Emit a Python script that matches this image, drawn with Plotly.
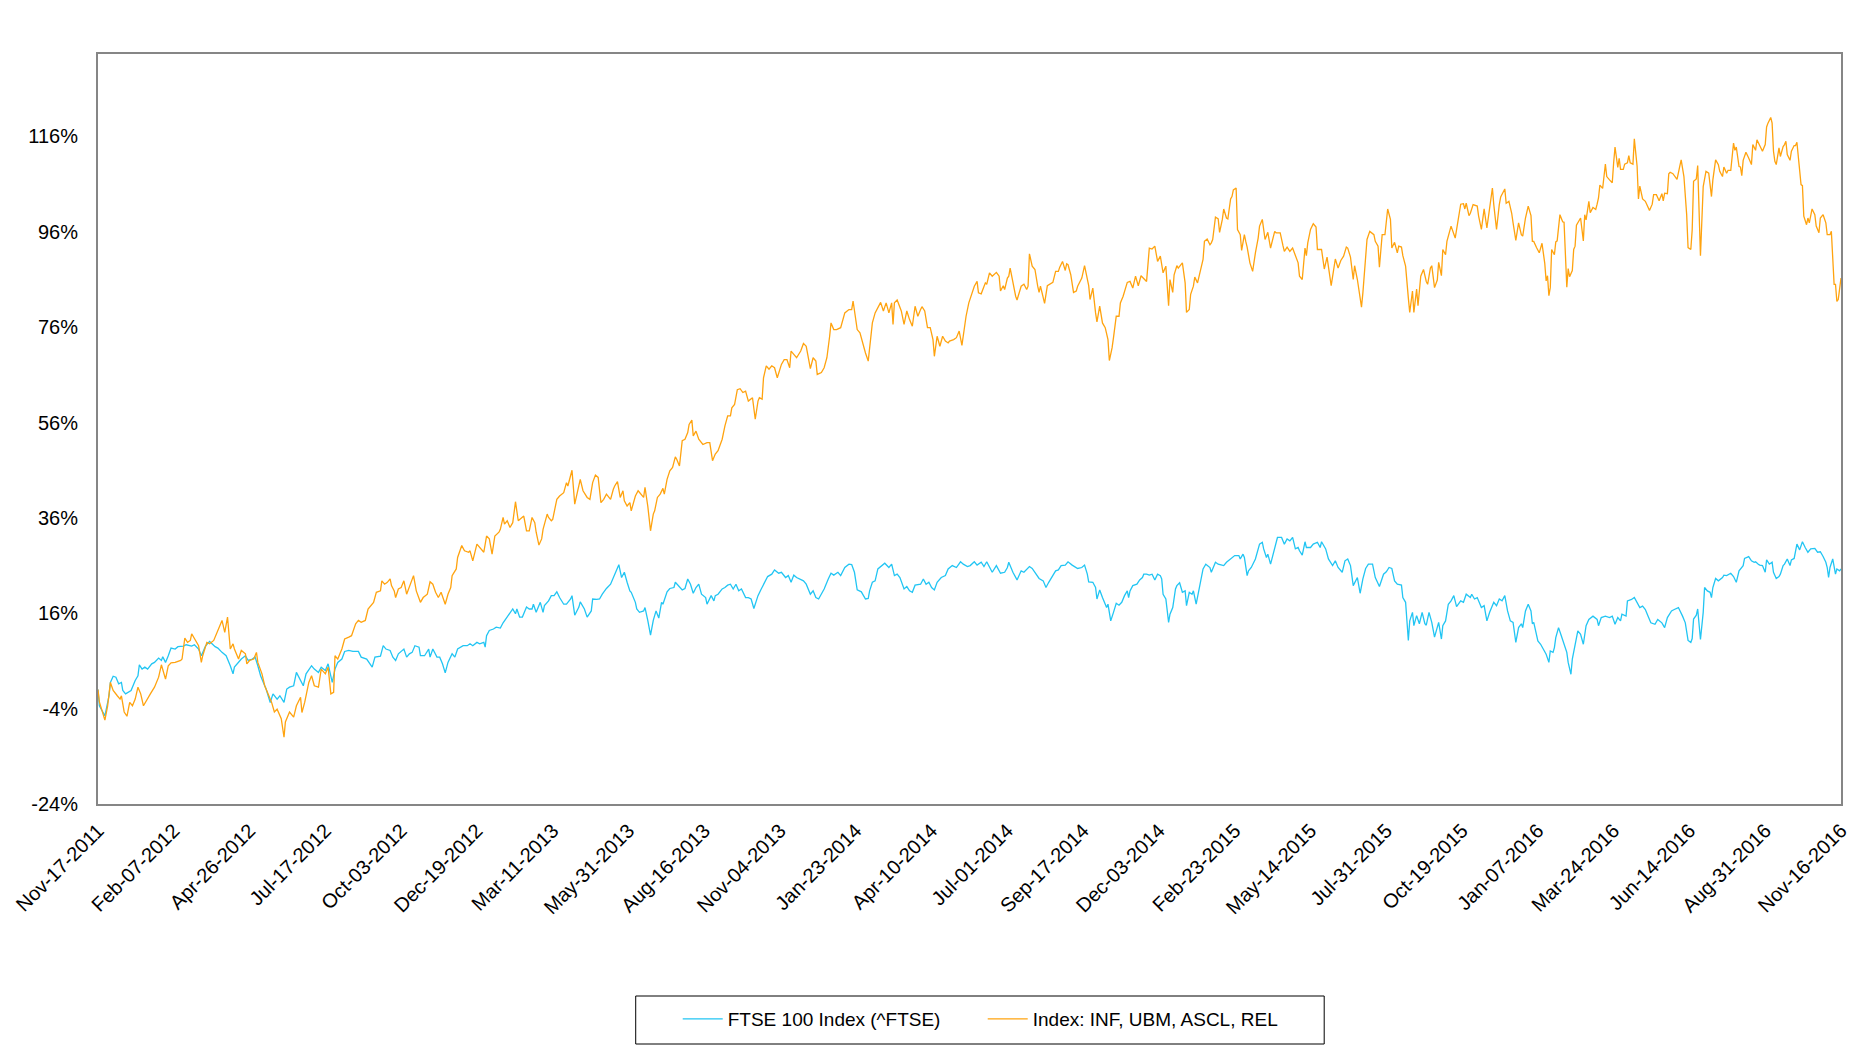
import plotly.graph_objects as go

# trading sessions since Nov-17-2011 (0) to Nov-16-2016 (1265), % change vs start
tick_dates = ["Nov-17-2011", "Feb-07-2012", "Apr-26-2012", "Jul-17-2012", "Oct-03-2012",
              "Dec-19-2012", "Mar-11-2013", "May-31-2013", "Aug-16-2013", "Nov-04-2013",
              "Jan-23-2014", "Apr-10-2014", "Jul-01-2014", "Sep-17-2014", "Dec-03-2014",
              "Feb-23-2015", "May-14-2015", "Jul-31-2015", "Oct-19-2015", "Jan-07-2016",
              "Mar-24-2016", "Jun-14-2016", "Aug-31-2016", "Nov-16-2016"]
tick_days = [0, 55, 110, 165, 220, 275, 330, 385, 440, 495, 550, 605,
             660, 715, 770, 825, 880, 935, 990, 1045, 1100, 1155, 1210, 1265]
y_ticks = [-24, -4, 16, 36, 56, 76, 96, 116]
y_labels = ["-24%", "-4%", "16%", "36%", "56%", "76%", "96%", "116%"]

ftse_name = "FTSE 100 Index (^FTSE)"
basket_name = "Index: INF, UBM, ASCL, REL"

# (session, % change)
ftse_points = [
    (0, 0.0), (1, -3.4), (5, -5.5), (8, -1.3), (9, 1.5), (11, 2.8), (13, 2.6), (15, 1.2), (17, 1.5),
    (18, -0.2), (20, -0.9), (22, -0.6), (24, -0.2), (27, 1.9), (29, 2.9), (30, 5.2), (32, 4.3), (34, 4.7),
    (36, 4.3), (39, 5.4), (41, 5.7), (44, 6.6), (46, 6.1), (47, 6.9), (49, 5.7), (51, 7.1), (53, 8.7),
    (56, 8.5), (58, 9.0), (62, 9.1), (64, 9.4), (68, 9.1), (70, 9.4), (73, 8.5), (75, 7.1), (78, 9.1),
    (81, 10.1), (85, 9.0), (87, 8.7), (90, 7.8), (93, 7.1), (96, 5.0), (98, 3.3), (99, 4.7), (102, 5.7),
    (104, 6.4), (107, 7.1), (109, 6.1), (112, 6.4), (114, 6.8), (116, 5.0), (118, 2.9), (120, 1.5),
    (122, 0.1), (125, -2.7), (127, -0.9), (130, -2.0), (132, -1.3), (135, -2.7), (137, 0.1), (139, 0.5),
    (142, 0.8), (144, 3.6), (147, 1.9), (149, 0.8), (151, 3.3), (155, 5.0), (157, 4.3), (160, 3.6),
    (162, 4.7), (165, 4.0), (167, 5.4), (170, 1.5), (172, 4.3), (174, 5.7), (177, 6.4), (179, 8.0),
    (182, 8.2), (185, 8.0), (189, 8.0), (191, 6.8), (195, 6.4), (199, 4.7), (201, 6.8), (205, 7.0),
    (207, 9.2), (209, 8.5), (212, 8.2), (214, 6.8),
    (216, 6.1), (218, 7.5), (222, 8.5), (224, 6.8), (226, 7.5), (228, 7.8), (230, 9.2), (233, 8.9),
    (234, 7.1), (237, 7.1), (240, 8.5), (241, 6.8), (243, 8.5), (246, 6.8), (248, 6.8), (250, 5.4),
    (252, 3.5), (254, 5.7), (257, 7.5), (259, 6.8), (261, 8.5), (265, 9.2), (268, 9.2), (270, 9.6),
    (272, 9.2), (275, 9.9), (277, 9.6), (280, 9.9), (281, 8.9), (282, 11.3), (284, 12.4), (287, 12.7),
    (289, 13.1), (292, 12.9), (294, 14.0), (297, 15.2), (299, 15.9), (301, 16.9), (303, 15.9), (304, 16.9),
    (306, 15.2), (308, 15.2), (311, 17.3), (313, 16.9), (315, 16.9), (316, 17.9), (318, 16.2), (321, 18.3),
    (323, 16.2), (324, 17.6), (327, 18.6), (329, 19.7), (331, 19.7), (333, 20.5), (335, 19.3), (338, 17.9),
    (340, 17.9), (343, 19.0), (344, 19.7), (346, 15.6), (349, 17.3), (350, 18.4), (353, 16.9), (355, 15.2),
    (358, 16.5), (359, 19.0), (362, 18.9), (364, 19.0), (366, 20.0), (369, 21.2), (372, 22.1), (374, 23.5),
    (376, 24.9), (378, 26.2), (380, 23.5), (382, 24.6), (384, 22.5), (386, 20.7), (387, 20.4), (390, 18.3),
    (391, 16.9), (393, 16.2), (396, 16.5), (397, 17.2), (399, 14.5), (401, 11.4), (403, 14.5), (405, 16.5),
    (407, 15.0), (409, 18.3), (410, 17.9), (413, 20.5), (415, 21.2), (418, 21.4), (419, 22.5), (421, 21.8),
    (424, 20.9), (426, 21.2), (428, 23.2), (430, 22.1), (432, 20.2), (434, 21.4), (436, 22.1), (438, 20.0),
    (441, 19.3), (442, 17.9), (445, 19.7), (447, 18.6), (448, 19.7), (450, 20.0), (453, 21.1), (455, 21.4),
    (457, 21.9), (459, 22.1), (461, 21.1), (463, 22.1), (465, 20.7), (467, 21.1), (470, 19.3), (472, 19.3),
    (474, 19.0), (476, 17.0), (479, 19.7), (481, 20.9), (484, 22.5), (486, 23.7), (489, 24.2), (491, 25.1),
    (494, 24.4), (496, 24.6), (499, 23.5), (501, 23.9), (503, 22.5), (505, 24.0), (507, 23.5), (510, 23.0),
    (512, 22.8), (514, 22.1), (517, 20.0), (519, 20.7), (521, 19.3), (523, 19.0), (525, 20.0), (527, 21.1),
    (530, 23.2), (532, 24.4), (534, 24.0), (537, 24.6), (539, 23.9), (542, 25.6), (545, 26.3), (547, 26.2),
    (549, 24.6), (551, 20.9), (554, 20.5), (555, 20.0), (557, 19.0), (559, 19.1), (560, 20.7), (562, 22.5),
    (564, 22.8), (566, 25.3), (569, 26.0), (571, 26.5), (574, 25.6), (576, 26.3), (578, 23.9), (580, 24.2),
    (582, 23.5), (585, 21.1), (587, 21.6), (589, 20.7), (591, 20.4), (593, 21.9), (597, 22.1), (599, 23.2),
    (601, 22.1), (603, 22.5), (605, 21.4), (607, 20.9), (609, 22.5), (612, 23.5), (615, 23.9), (617, 25.3),
    (620, 26.0), (623, 25.6), (626, 26.8), (628, 26.3),
    (631, 25.8), (633, 26.0), (636, 26.8), (638, 26.1), (641, 26.7), (643, 25.8), (645, 26.8), (647, 25.6),
    (649, 24.6), (652, 26.0), (653, 25.4), (655, 24.4), (658, 24.6), (660, 25.6), (661, 26.7), (664, 24.6),
    (667, 23.0), (669, 24.4), (670, 24.9), (672, 24.6), (674, 25.3), (676, 25.8), (678, 25.4), (681, 24.2),
    (683, 23.3), (686, 22.8), (688, 21.4), (690, 22.5), (692, 23.5), (695, 24.9), (697, 25.1), (699, 26.0),
    (702, 26.1), (704, 26.8), (707, 26.1), (709, 25.8), (711, 25.4), (714, 25.6), (716, 26.1), (718, 24.2),
    (719, 22.6), (722, 22.5), (724, 21.4), (725, 19.0), (727, 20.9), (729, 19.3), (732, 17.2), (733, 17.9),
    (735, 14.4), (737, 16.2), (739, 18.1), (741, 17.7), (743, 18.3), (745, 19.7), (747, 20.7), (748, 19.3),
    (749, 20.7), (751, 21.8), (754, 22.1), (756, 23.0), (758, 23.5), (759, 24.2), (761, 24.2), (763, 24.0),
    (765, 24.2), (767, 23.0), (769, 24.2), (771, 23.9), (772, 23.2), (773, 20.0), (775, 19.0), (777, 14.1),
    (778, 15.8), (780, 17.2), (782, 21.1), (783, 21.8), (785, 22.4), (787, 20.4), (789, 20.7), (790, 17.6),
    (792, 20.4), (794, 20.0), (795, 20.7), (797, 17.9), (799, 21.1), (800, 22.1), (802, 25.3), (804, 26.3),
    (807, 25.6), (808, 24.6), (811, 26.7), (813, 26.3), (817, 26.0), (819, 26.7), (822, 27.4), (825, 28.1),
    (828, 28.1), (829, 27.4), (831, 28.4), (832, 27.7), (834, 23.9),
    (835, 24.9), (837, 25.6), (840, 27.4), (843, 30.5), (845, 30.9), (846, 29.5), (848, 27.7), (849, 28.4),
    (851, 26.3), (852, 27.4), (854, 29.5), (856, 31.9), (859, 31.9), (861, 30.5), (863, 31.6), (865, 31.2),
    (867, 31.9), (869, 29.5), (871, 29.8), (872, 29.1), (874, 28.2), (876, 31.0), (877, 29.8), (880, 29.8),
    (882, 30.5), (885, 30.9), (887, 29.8), (888, 31.0), (891, 29.5), (893, 27.4), (896, 26.0), (898, 27.0),
    (900, 25.6), (903, 24.6), (905, 27.0), (907, 27.4), (909, 26.0), (911, 21.8), (914, 23.5), (916, 20.2),
    (918, 23.2), (920, 25.4), (922, 26.3), (925, 26.3), (927, 23.5), (930, 21.6), (933, 24.2), (935, 24.7),
    (937, 25.6), (939, 25.4), (941, 22.8), (943, 22.1), (946, 21.9), (947, 19.3), (949, 18.3), (951, 10.3),
    (952, 14.4), (954, 16.2), (955, 13.4), (957, 15.5), (959, 13.8), (961, 16.2), (963, 13.8), (964, 13.5),
    (966, 16.2), (968, 14.1), (970, 11.0), (972, 13.0), (973, 14.1), (975, 10.6), (976, 13.4), (978, 14.4),
    (980, 17.9), (982, 18.6), (984, 19.7), (986, 17.4), (989, 18.6), (991, 18.3), (993, 20.0), (996, 19.3),
    (997, 20.0), (999, 19.0), (1001, 19.3), (1004, 17.2), (1006, 17.6), (1008, 14.4), (1010, 16.2),
    (1013, 18.3), (1015, 17.6), (1017, 19.0), (1019, 18.6), (1021, 19.7), (1023, 16.5), (1025, 14.4),
    (1027, 14.1), (1029, 9.9), (1031, 13.0), (1033, 13.8), (1034, 13.0), (1036, 16.5), (1038, 17.9),
    (1040, 16.5), (1041, 13.8), (1042, 14.1),
    (1045, 10.2), (1047, 9.5), (1049, 8.5), (1051, 7.4), (1053, 5.7), (1054, 8.1), (1056, 7.8), (1057, 8.8),
    (1058, 10.9), (1060, 13.0), (1062, 11.3), (1064, 9.5), (1066, 7.8), (1067, 5.7), (1069, 3.2), (1070, 6.4),
    (1072, 9.2), (1074, 12.3), (1076, 11.6), (1078, 9.5), (1080, 13.4), (1082, 14.7), (1085, 15.4),
    (1088, 14.7), (1089, 13.4), (1091, 15.1), (1094, 15.4), (1097, 15.1), (1099, 15.4), (1101, 13.7),
    (1103, 15.1), (1105, 14.4), (1106, 15.8), (1109, 15.4), (1110, 18.6), (1113, 18.9), (1115, 19.3),
    (1117, 18.2), (1119, 17.2), (1121, 17.5), (1123, 16.8), (1125, 15.4), (1127, 14.0), (1130, 13.7),
    (1132, 14.7), (1135, 14.0), (1137, 13.0), (1139, 15.1), (1142, 16.5), (1144, 16.8), (1147, 17.2),
    (1150, 15.4), (1152, 14.0), (1154, 10.3),
    (1156, 9.9), (1157, 10.7), (1158, 14.8), (1160, 15.6), (1161, 16.9), (1163, 10.5), (1165, 16.2),
    (1166, 21.4), (1168, 20.7), (1170, 20.4), (1171, 19.3), (1172, 21.4), (1174, 23.3), (1176, 22.8),
    (1179, 23.5), (1180, 24.0), (1182, 23.9), (1185, 24.4), (1187, 23.7), (1189, 22.5), (1191, 24.9),
    (1194, 26.0), (1195, 27.5), (1198, 27.9), (1200, 27.0), (1202, 26.7), (1203, 26.8), (1205, 26.3),
    (1206, 26.1), (1208, 26.0), (1209, 25.3), (1210, 24.6), (1211, 27.2), (1213, 26.3), (1215, 26.7),
    (1216, 24.6), (1218, 23.3), (1220, 23.7), (1221, 24.2), (1223, 26.0), (1224, 26.3), (1226, 27.4),
    (1228, 26.0), (1229, 27.2), (1231, 27.5), (1233, 30.5), (1235, 29.3), (1237, 31.0), (1239, 29.8),
    (1241, 28.8), (1243, 29.5), (1245, 29.5), (1246, 29.6), (1248, 28.8), (1250, 28.9), (1252, 27.9),
    (1254, 26.7), (1255, 25.6), (1256, 23.5), (1257, 25.6), (1259, 27.4), (1261, 24.2), (1262, 25.3),
    (1264, 24.9), (1265, 25.3),
]

basket_points = [
    (0, 0.0), (1, -2.6), (5, -6.4), (7, -3.4), (9, 1.5), (11, -0.2), (14, -1.3), (16, -2.0), (17, -1.3),
    (19, -4.7), (21, -5.6), (23, -2.7), (25, -3.4), (27, -2.0), (29, 0.5), (31, -0.9), (33, -3.4), (35, -2.3),
    (38, -0.9), (41, 0.5), (44, 2.6), (46, 5.2), (49, 2.2), (51, 5.0), (53, 5.6), (56, 5.7), (60, 6.1),
    (61, 6.4), (63, 10.8), (65, 9.9), (67, 10.3), (68, 11.7), (70, 10.6), (73, 9.2), (75, 5.7), (76, 7.1),
    (79, 9.9), (81, 9.6), (84, 10.3), (86, 11.7), (89, 13.8), (90, 14.5), (92, 12.0), (94, 15.2), (96, 8.5),
    (98, 9.6), (99, 8.5), (102, 6.4), (104, 8.2), (107, 7.5), (108, 5.4), (110, 6.1), (113, 6.4), (115, 7.8),
    (116, 5.7), (119, 3.3), (121, 0.8), (124, -1.3), (126, -2.7), (128, -4.7), (130, -4.1), (133, -6.1),
    (135, -10.0), (136, -6.8), (139, -4.7), (142, -5.8), (144, -3.4), (147, -1.6), (148, -4.8), (150, -2.7),
    (153, 1.5), (155, 2.9), (157, 0.8), (160, 0.5), (162, 4.3), (165, 3.3), (167, 4.7), (169, -0.9),
    (171, -0.6), (172, 7.1), (174, 6.4), (177, 8.5), (179, 10.6), (182, 11.0), (184, 11.3), (187, 13.8),
    (189, 14.5), (191, 14.1), (194, 14.5), (196, 16.9), (200, 18.3), (202, 20.4), (205, 20.7), (206, 22.8),
    (208, 22.1), (210, 22.5), (212, 23.2), (213, 21.8), (215, 20.7),
    (216, 19.3), (218, 21.1), (220, 21.4), (222, 22.8), (224, 20.0), (225, 20.7), (229, 23.9), (231, 20.7),
    (234, 18.3), (236, 19.3), (239, 20.0), (241, 22.6), (243, 22.1), (245, 20.4), (247, 19.3), (249, 20.4),
    (252, 17.9), (254, 20.0), (256, 21.4), (257, 23.9), (260, 25.3), (261, 27.7), (264, 30.2), (266, 29.1),
    (269, 28.8), (270, 29.1), (272, 27.0), (275, 30.5), (277, 29.8), (280, 28.8), (282, 32.2), (284, 31.6),
    (286, 28.4), (288, 32.2), (291, 33.0), (292, 33.6), (294, 36.1), (295, 34.7), (297, 35.4), (299, 34.0),
    (301, 35.0), (303, 39.4), (305, 35.4), (306, 35.7), (309, 36.4), (311, 33.3), (313, 33.3), (315, 36.1),
    (317, 35.0), (318, 33.0), (320, 30.3), (322, 31.6), (323, 33.6), (326, 36.8), (327, 36.1), (329, 35.4),
    (330, 35.7), (333, 39.9), (335, 40.6), (338, 41.3), (340, 43.4), (341, 42.7), (344, 46.0), (346, 38.9),
    (347, 40.3), (350, 44.1), (352, 41.7), (355, 40.3), (357, 39.9), (359, 43.4), (361, 45.0), (363, 44.5),
    (365, 39.2), (367, 39.9), (369, 41.0), (372, 39.9), (374, 42.0), (375, 42.7), (377, 43.6), (379, 40.3),
    (381, 41.7), (382, 39.6), (384, 38.5), (386, 39.2), (387, 37.5), (390, 40.6), (392, 41.7), (394, 41.0),
    (396, 40.3), (397, 42.4), (399, 38.5), (401, 33.3), (403, 36.8), (404, 37.5), (406, 40.3), (408, 41.0),
    (410, 42.2), (411, 41.0), (413, 44.1), (415, 45.9), (417, 46.6), (419, 48.8), (420, 48.3), (422, 46.9),
    (424, 52.2), (426, 52.5), (428, 53.9), (429, 55.6), (431, 56.5), (432, 53.2), (434, 54.2), (436, 52.5),
    (439, 51.4), (442, 51.8), (444, 51.8), (446, 48.0), (448, 49.4), (450, 50.1), (453, 52.5), (455, 55.3),
    (457, 57.4), (459, 57.4), (460, 59.1), (462, 59.8), (464, 62.9), (466, 63.1), (468, 62.3), (470, 62.6),
    (472, 60.5), (475, 61.2), (477, 56.7), (479, 60.5), (480, 61.2), (482, 60.9), (483, 65.4), (485, 67.9),
    (487, 67.2), (489, 67.9), (491, 67.5), (493, 65.4), (496, 68.2), (498, 69.2), (500, 69.2), (502, 67.5),
    (503, 71.0), (505, 70.3), (507, 69.6), (510, 71.0), (512, 72.6), (514, 72.0), (517, 67.3), (519, 69.6),
    (521, 68.9), (522, 66.1), (525, 66.5), (527, 67.5), (529, 69.6), (531, 74.1), (532, 76.9), (534, 75.5),
    (536, 75.5), (539, 75.9), (540, 76.9), (542, 79.0), (545, 79.7), (547, 79.7), (548, 81.5), (551, 75.5),
    (553, 74.8), (555, 72.4), (557, 70.6), (559, 68.9), (560, 71.7), (562, 76.9), (564, 79.0), (566, 80.1),
    (568, 81.2), (570, 79.4), (572, 81.1), (574, 79.0), (576, 81.1), (577, 76.6), (578, 81.1), (580, 81.7),
    (583, 79.4), (585, 76.6), (587, 79.4), (589, 77.6), (591, 76.2), (593, 80.4), (595, 78.3), (597, 79.7),
    (598, 80.3), (600, 79.4), (602, 75.9), (604, 75.9), (606, 73.4), (607, 69.9), (609, 74.1), (611, 72.0),
    (613, 74.1), (615, 73.1), (617, 72.7), (618, 73.1), (621, 73.4), (623, 73.8), (625, 75.2), (627, 72.2),
    (630, 78.3), (632, 81.1), (634, 82.9), (636, 84.6), (638, 85.6), (639, 83.2), (641, 83.0), (644, 85.3),
    (645, 85.0), (647, 87.4), (649, 86.7), (652, 87.5), (654, 86.7), (655, 83.6), (657, 84.7), (658, 83.9),
    (660, 86.3), (661, 86.7), (662, 88.4), (664, 85.3), (666, 82.5), (667, 81.7), (669, 83.9), (670, 84.6),
    (672, 85.0), (674, 83.9), (675, 84.6), (676, 91.4), (678, 88.8), (680, 88.1), (682, 84.6), (683, 83.3),
    (684, 84.6), (686, 82.5), (687, 81.0), (689, 84.7), (691, 85.0), (693, 85.4), (695, 87.7), (697, 87.7),
    (698, 88.6), (700, 89.8), (702, 87.9), (703, 89.3), (704, 89.1), (706, 87.0), (708, 83.3), (710, 83.6),
    (711, 84.6), (714, 86.3), (716, 88.9), (717, 87.7), (719, 84.7), (720, 81.8), (722, 84.2), (724, 79.0),
    (725, 77.1), (727, 80.4), (729, 76.9), (731, 75.9), (733, 73.4), (734, 69.0), (736, 71.7), (737, 73.8),
    (739, 78.3), (741, 78.3), (742, 81.1), (744, 82.5), (747, 85.4), (749, 85.6), (751, 84.2), (753, 86.7),
    (755, 84.7), (757, 86.8), (760, 86.0), (761, 85.6), (763, 92.6), (765, 92.4), (767, 93.0), (769, 89.8),
    (771, 90.9), (773, 87.4), (775, 88.8), (777, 80.5), (778, 86.0), (780, 83.3), (781, 87.0), (783, 88.9),
    (784, 88.4), (786, 89.1), (787, 89.5), (789, 85.3), (790, 79.1), (792, 79.7), (793, 82.9), (795, 84.6),
    (796, 86.5), (798, 85.3), (800, 88.1), (802, 90.2), (803, 94.0), (805, 94.5), (807, 93.3), (808, 93.7),
    (809, 94.4), (811, 99.1), (813, 98.7), (814, 95.9), (816, 98.6), (817, 100.8), (819, 98.9), (820, 98.7),
    (822, 102.9), (823, 103.4), (824, 104.8), (826, 105.2), (827, 96.5), (829, 95.4), (830, 92.1),
    (832, 95.4), (833, 94.0), (834, 92.8), (836, 89.5),
    (838, 87.7), (840, 91.6), (842, 94.7), (843, 97.2), (845, 98.6), (847, 94.4), (849, 95.9), (851, 92.6),
    (854, 96.1), (855, 95.8), (858, 95.8), (860, 93.1), (861, 91.9), (863, 92.8), (865, 91.9), (867, 92.6),
    (869, 91.0), (871, 89.5), (872, 86.7), (874, 86.0), (876, 92.6), (877, 91.0), (878, 93.7), (880, 96.5),
    (882, 97.7), (884, 97.0), (885, 92.3), (888, 92.3), (890, 88.2), (892, 90.7), (895, 84.7), (897, 88.4),
    (898, 90.3), (900, 88.4), (902, 90.0), (904, 90.9), (906, 92.8), (907, 92.6), (909, 90.7), (911, 86.0),
    (912, 88.9), (914, 86.0), (917, 80.2), (918, 83.2), (920, 90.9), (921, 94.4), (923, 96.1), (926, 95.4),
    (927, 94.0), (929, 93.0), (930, 88.6), (932, 95.4), (934, 95.4), (935, 98.9), (936, 100.8), (938, 98.6),
    (939, 92.6), (941, 93.8), (943, 91.6), (944, 93.0), (946, 92.8), (947, 91.0), (949, 88.8), (951, 82.1),
    (952, 79.1), (954, 83.6), (955, 79.1), (957, 84.0), (958, 80.5), (960, 86.7), (962, 88.1), (964, 85.6),
    (965, 85.0), (967, 88.4), (968, 88.9), (970, 84.3), (972, 85.9), (973, 89.6), (975, 86.8), (976, 92.3),
    (978, 91.2), (979, 94.0), (981, 96.5), (982, 97.2), (985, 94.7), (987, 98.6), (989, 101.8), (991, 101.9),
    (992, 100.8), (993, 102.0), (995, 99.4), (996, 99.9), (998, 101.7), (1001, 101.4), (1002, 99.3),
    (1004, 96.5), (1006, 100.8), (1008, 96.8), (1010, 101.4), (1012, 105.2), (1013, 101.7), (1015, 96.5),
    (1017, 101.7), (1018, 103.3), (1021, 105.0), (1022, 102.0), (1024, 102.4), (1026, 99.9), (1027, 97.9),
    (1029, 94.2), (1031, 97.9), (1033, 95.4), (1034, 95.1), (1036, 98.9), (1038, 101.4), (1040, 99.4),
    (1041, 94.0), (1042, 94.0),
    (1044, 92.7), (1046, 91.6), (1048, 93.6), (1050, 89.4), (1051, 85.7), (1052, 86.8), (1053, 82.6),
    (1054, 84.3), (1055, 92.3), (1057, 91.2), (1058, 93.9), (1059, 94.1), (1061, 99.6), (1063, 98.1),
    (1064, 98.0), (1066, 84.4), (1067, 88.3), (1068, 86.6), (1070, 87.9), (1071, 92.3), (1072, 93.0),
    (1073, 97.4), (1076, 98.9), (1077, 96.0), (1078, 94.1), (1079, 99.6), (1080, 98.5), (1082, 102.4),
    (1083, 100.0), (1085, 101.1), (1087, 100.7), (1088, 101.8), (1089, 103.1), (1090, 105.8), (1092, 105.1),
    (1094, 110.2), (1095, 107.6), (1097, 106.9), (1099, 106.3), (1100, 110.5), (1101, 113.8), (1103, 109.5),
    (1104, 111.4), (1105, 109.1), (1107, 109.1), (1108, 110.2), (1110, 110.5), (1111, 112.0), (1112, 110.5),
    (1114, 110.2), (1115, 115.5), (1117, 109.8), (1118, 102.9), (1119, 105.6), (1121, 102.9), (1123, 102.4),
    (1124, 101.8), (1126, 100.5), (1128, 101.8), (1129, 103.8), (1131, 103.8), (1133, 102.5), (1135, 104.0),
    (1136, 102.5), (1137, 104.1), (1139, 104.0), (1140, 108.2), (1141, 108.5), (1143, 108.2), (1146, 107.0),
    (1148, 109.8), (1149, 111.1), (1151, 107.6), (1153, 99.6), (1154, 92.7),
    (1156, 92.3), (1157, 96.4), (1158, 106.6), (1160, 107.1), (1161, 109.9), (1163, 91.0), (1165, 105.5),
    (1167, 108.7), (1169, 108.3), (1171, 103.4), (1172, 106.9), (1174, 111.1), (1176, 110.1), (1177, 108.7),
    (1179, 107.6), (1180, 109.6), (1182, 108.3), (1183, 108.9), (1185, 108.9), (1187, 114.6), (1188, 113.1),
    (1189, 113.8), (1191, 109.7), (1192, 109.6), (1193, 107.8), (1194, 111.0), (1196, 112.7), (1198, 111.5),
    (1200, 110.1), (1201, 114.3), (1203, 113.1), (1204, 115.3), (1206, 114.1), (1208, 112.9), (1210, 114.3),
    (1211, 118.0), (1212, 118.8), (1214, 120.0), (1215, 118.8), (1216, 112.9), (1217, 110.8), (1218, 110.1),
    (1220, 113.6), (1221, 111.8), (1223, 113.9), (1224, 114.3), (1225, 115.0), (1226, 112.2), (1228, 111.0),
    (1229, 112.9), (1231, 114.1), (1232, 114.1), (1233, 114.8), (1234, 111.8), (1236, 105.9), (1237, 105.7),
    (1238, 99.3), (1240, 97.5), (1241, 98.9), (1242, 97.9), (1244, 100.8), (1246, 99.6), (1247, 97.2),
    (1249, 95.8), (1250, 98.9), (1252, 99.6), (1254, 97.9), (1255, 95.4), (1257, 95.4), (1258, 96.1),
    (1260, 85.0), (1261, 85.0), (1262, 81.4), (1263, 81.8), (1265, 86.3),
]

ftse_day, ftse_pct = zip(*ftse_points)
basket_day, basket_pct = zip(*basket_points)

font_family = "Liberation Sans, Arial, sans-serif"

fig = go.Figure()
fig.add_trace(go.Scatter(x=ftse_day, y=ftse_pct, mode="lines", name=ftse_name,
                         line=dict(color="#22C5F3", width=1.3)))
fig.add_trace(go.Scatter(x=basket_day, y=basket_pct, mode="lines", name=basket_name,
                         line=dict(color="#FFA30F", width=1.3)))

# legend frame
fig.add_shape(type="rect", xref="paper", yref="paper",
              x0=0.3085, x1=0.7035, y0=-0.32, y1=-0.256,
              line=dict(color="black", width=1))

fig.update_layout(
    width=1870, height=1062,
    margin=dict(l=98, r=29, t=54, b=258),
    paper_bgcolor="white", plot_bgcolor="white",
    font=dict(family=font_family, size=20, color="black"),
    showlegend=True,
    legend=dict(orientation="h", x=0.3326, xanchor="left", y=-0.2867, yanchor="middle",
                font=dict(size=19), bgcolor="rgba(0,0,0,0)", itemwidth=40,
                entrywidth=250, entrywidthmode="pixels"),
)
fig.update_xaxes(range=[0, 1265], tickvals=tick_days, ticktext=tick_dates, tickangle=-45,
                 showgrid=False, zeroline=False, showline=True, mirror=True,
                 linecolor="#868686", linewidth=2,
                 ticks="outside", ticklen=5, tickcolor="rgba(0,0,0,0)")
fig.update_yaxes(range=[-24, 133.3], tickvals=y_ticks, ticktext=y_labels,
                 showgrid=False, zeroline=False, showline=True, mirror=True,
                 linecolor="#868686", linewidth=2,
                 ticks="outside", ticklen=14, tickcolor="rgba(0,0,0,0)")

fig.write_html("out.html", config={"displayModeBar": False},
               post_script="document.body.style.margin='0';")
